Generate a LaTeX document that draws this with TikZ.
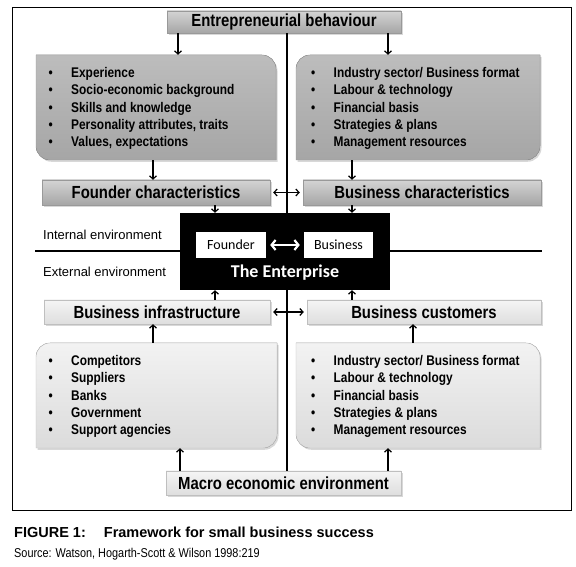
\documentclass[tikz,border=0pt]{standalone}
\usepackage{fontspec}
\setmainfont{Liberation Sans}
\newfontfamily\nf{Liberation Sans}[FakeStretch=0.85]
\newfontfamily\cf{Carlito}
\usetikzlibrary{arrows.meta,shadows}
\newcommand\bul{\makebox[22.5pt][l]{\textbullet}}
\begin{document}
\begin{tikzpicture}[x=1pt,y=1pt,
  arr/.style={line width=1.2pt,-{Straight Barb[length=3.2pt,width=7pt]}},
  darr/.style={line width=1.2pt,{Straight Barb[length=3.2pt,width=7pt]}-{Straight Barb[length=3.2pt,width=7pt]}},
  shd/.style={drop shadow={shadow xshift=1.5pt,shadow yshift=-1.8pt,opacity=0.3}},
  dtitle/.style={inner sep=0pt, top color=black!17, bottom color=black!35, draw=black!40, line width=0.4pt, shd, font=\nf\bfseries\fontsize{17.5}{20}\selectfont},
  ltitle/.style={inner sep=0pt, top color=black!4, bottom color=black!13, draw=black!25, line width=0.4pt, shd, font=\nf\bfseries\fontsize{17.5}{20}\selectfont},
  dpanel/.style={top color=black!26, bottom color=black!35, draw=black!40, line width=0.4pt, shd},
  lpanel/.style={top color=black!5, bottom color=black!14, draw=black!25, line width=0.4pt, shd},
  geo/.style={inner sep=0pt, draw=none},
  items/.style={anchor=west, inner sep=0pt, align=left, font=\nf\bfseries\fontsize{14}{17.3}\selectfont},
  env/.style={anchor=west, inner sep=0pt, font=\fontsize{13}{15}\selectfont},
  wbox/.style={fill=white, inner sep=0pt, font=\cf\fontsize{14}{16}\selectfont},
]
\useasboundingbox (0,0) rectangle (576,567);
\fill[white] (0,0) rectangle (576,567);
% frame
\node[geo, draw=black, line width=0.9pt, minimum width=559pt, minimum height=503pt] (frame) at (291.5,308.5) {};
% top and bottom title boxes
\node[dtitle, minimum width=234pt, minimum height=22pt] (eb) at (284,545) {Entrepreneurial behaviour};
\node[ltitle, minimum width=235pt, minimum height=24pt] (me) at (283.5,84) {Macro economic environment};
% axis lines
\coordinate (hl) at (35,316);
\coordinate (hr) at (542,316);
\draw[line width=1.5pt] (hl) -- (hr);
\draw[line width=1.5pt] ([xshift=3pt]eb.south) -- ([xshift=3pt]eb.south |- me.north);
% panels
\fill[dpanel] (36,512) -- (262,512) arc[start angle=90,end angle=0,radius=14] -- (276,407) -- (50,407) arc[start angle=270,end angle=180,radius=14] -- cycle;
\fill[dpanel] (310,512) -- (540,512) -- (540,421) arc[start angle=0,end angle=-90,radius=14] -- (296,407) -- (296,498) arc[start angle=180,end angle=90,radius=14] -- cycle;
\fill[lpanel] (50,224) -- (277,224) -- (277,133) arc[start angle=0,end angle=-90,radius=14] -- (36,119) -- (36,210) arc[start angle=180,end angle=90,radius=14] -- cycle;
\fill[lpanel] (296,224) -- (526,224) arc[start angle=90,end angle=0,radius=14] -- (540,119) -- (310,119) arc[start angle=270,end angle=180,radius=14] -- cycle;
\node[geo, minimum width=240pt, minimum height=105pt] (tl) at (156,459.5) {};
\node[geo, minimum width=244pt, minimum height=105pt] (tr) at (418,459.5) {};
\node[geo, minimum width=241pt, minimum height=105pt] (ll) at (156.5,171.5) {};
\node[geo, minimum width=244pt, minimum height=105pt] (lr) at (418,171.5) {};
% panel texts
\node[items] (tli) at (48.5,458.5) {\bul Experience\\ \bul Socio-economic background\\ \bul Skills and knowledge\\ \bul Personality attributes, traits\\ \bul Values, expectations};
\node[items] (tri) at (311,458.5) {\bul Industry sector/ Business format\\ \bul Labour \& technology\\ \bul Financial basis\\ \bul Strategies \& plans\\ \bul Management resources};
\node[items] (lli) at (48.5,170.5) {\bul Competitors\\ \bul Suppliers\\ \bul Banks\\ \bul Government\\ \bul Support agencies};
\node[items] (lri) at (311,170.5) {\bul Industry sector/ Business format\\ \bul Labour \& technology\\ \bul Financial basis\\ \bul Strategies \& plans\\ \bul Management resources};
% characteristic boxes
\node[dtitle, minimum width=228pt, minimum height=25pt] (fc) at (156,374.5) {Founder characteristics};
\node[dtitle, minimum width=238pt, minimum height=25pt] (bc) at (422,374.5) {Business characteristics};
\node[ltitle, minimum width=226pt, minimum height=24pt] (bi) at (157,255) {Business infrastructure};
\node[ltitle, minimum width=234pt, minimum height=24pt] (bcu) at (424,255) {Business customers};
\draw[darr] ([xshift=3pt]fc.east) -- ([xshift=-3pt]bc.west);
\draw[darr] ([xshift=3pt]bi.east) -- ([xshift=-3pt]bcu.west);
% enterprise
\node[geo, fill=black, minimum width=210pt, minimum height=77pt] (ent) at (285,315.5) {};
\node[wbox, minimum width=70pt, minimum height=26pt] (fw) at (231,322) {Founder};
\node[wbox, minimum width=69pt, minimum height=26pt] (bw) at (338.5,322) {Business};
\draw[white, line width=2.2pt, {Straight Barb[length=4pt,width=10pt]}-{Straight Barb[length=4pt,width=10pt]}] ([xshift=4pt]fw.east) -- ([xshift=-4pt]bw.west);
\node[text=white, inner sep=0pt, font=\cf\bfseries\fontsize{18}{20}\selectfont] (te) at (285,294) {The Enterprise};
% environment labels
\node[env] (ie) at (43,332) {Internal environment};
\node[env] (ee) at (43,295) {External environment};
% arrows
\draw[arr] ([xshift=-106pt]eb.south) -- ([xshift=-106pt]eb.south |- tl.north);
\draw[arr] ([xshift=104pt]eb.south) -- ([xshift=104pt]eb.south |- tr.north);
\draw[arr] ([xshift=-3pt]tl.south) -- ([xshift=-3pt]tl.south |- fc.north);
\draw[arr] ([xshift=-66pt]tr.south) -- ([xshift=-66pt]tr.south |- bc.north);
\draw[arr] ([xshift=59pt]fc.south) -- ([xshift=59pt]fc.south |- ent.north);
\draw[arr] ([xshift=-70pt]bc.south) -- ([xshift=-70pt]bc.south |- ent.north);
\draw[arr] ([xshift=58pt]bi.north) -- ([xshift=58pt]bi.north |- ent.south);
\draw[arr] ([xshift=-72pt]bcu.north) -- ([xshift=-72pt]bcu.north |- ent.south);
\draw[arr] ([xshift=-3.5pt]ll.north) -- ([xshift=-3.5pt]ll.north |- bi.south);
\draw[arr] ([xshift=-5pt]lr.north) -- ([xshift=-5pt]lr.north |- bcu.south);
\draw[arr] ([xshift=-103.5pt]me.north) -- ([xshift=-103.5pt]me.north |- ll.south);
\draw[arr] ([xshift=104.5pt]me.north) -- ([xshift=104.5pt]me.north |- lr.south);
% caption
\node[anchor=west, inner sep=0pt, font=\bfseries\fontsize{14.5}{16}\selectfont] (cap) at (14,35) {FIGURE 1:\hspace{18pt}Framework for small business success};
\node[anchor=west, inner sep=0pt, font=\nf\fontsize{12.8}{14}\selectfont] (src) at (14,13) {Source: Watson, Hogarth-Scott \& Wilson 1998:219};
\end{tikzpicture}
\end{document}
